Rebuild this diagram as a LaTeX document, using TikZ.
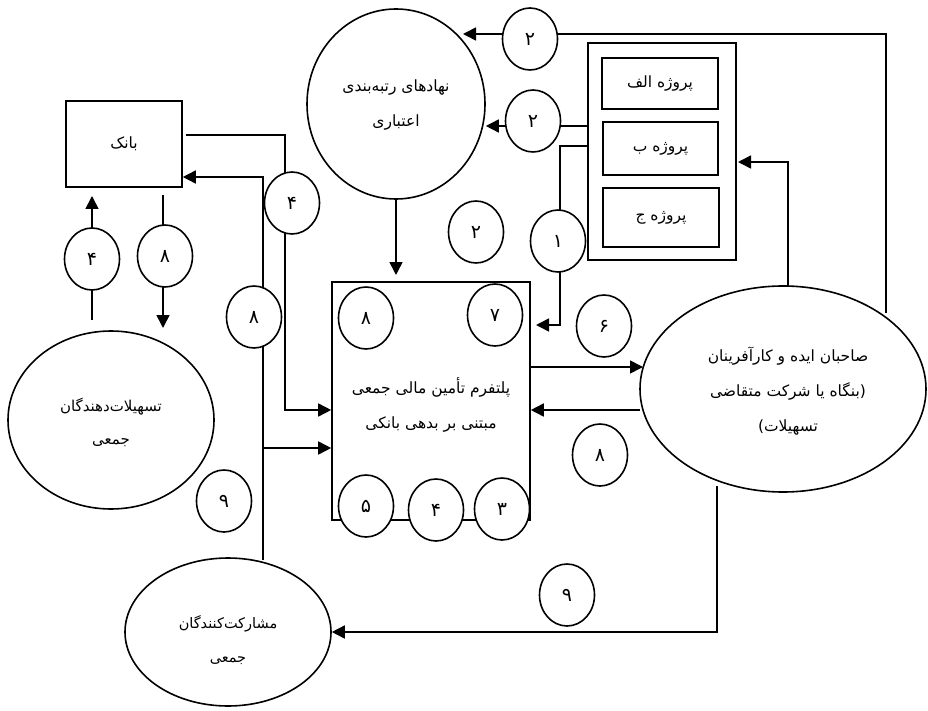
\documentclass[tikz,border=0pt]{standalone}
\usepackage{fontspec}
\newfontfamily\arabicfont[Script=Arabic]{DejaVu Sans}
\TeXXeTstate=1
\usetikzlibrary{shapes.geometric,arrows.meta}
\newcommand{\fa}[1]{\beginR #1\endR}
\begin{document}
\begin{tikzpicture}[x=1pt,y=-1pt,
  lin/.style={line width=1.6pt},
  arr/.style={line width=1.6pt,-{Triangle[length=13pt,width=13pt]}},
  bigell/.style={ellipse,draw,line width=1.6pt,inner sep=0pt},
  boxn/.style={rectangle,draw,line width=1.6pt,inner sep=0pt},
  txt/.style={align=center,font=\arabicfont\fontsize{15.5}{35}\selectfont},
  num/.style={ellipse,draw,line width=1.6pt,fill=white,minimum width=55pt,minimum height=62pt,inner sep=0pt,font=\arabicfont\fontsize{19}{20}\selectfont}]
\useasboundingbox (0,0) rectangle (928,711);
\fill[white] (0,0) rectangle (928,711);

% main shapes
\node[boxn,minimum width=116pt,minimum height=86pt] (bank) at (124,144) {};
\node[txt] at (bank.center) {\fa{بانک}};
\node[bigell,minimum width=178pt,minimum height=190pt] (rate) at (396,104) {};
\node[txt] at (396,105) {\fa{نهادهای رتبه‌بندی}\\\fa{اعتباری}};
\node[boxn,minimum width=198pt,minimum height=238pt] (plat) at (431,401) {};
\node[txt] at (431,405) {\fa{پلتفرم تأمین مالی جمعی}\\\fa{مبتنی بر بدهی بانکی}};
\node[boxn,minimum width=148pt,minimum height=217pt] (proj) at (662,151.5) {};
\node[boxn,minimum width=116pt,minimum height=51pt,txt] (pA) at (660,83.5) {\fa{پروژه الف}};
\node[boxn,minimum width=115pt,minimum height=53pt,txt] (pB) at (660.5,148.5) {\fa{پروژه ب}};
\node[boxn,minimum width=116pt,minimum height=59pt,txt] (pC) at (661,217.5) {\fa{پروژه ج}};
\node[bigell,minimum width=286pt,minimum height=206pt] (ent) at (783,389) {};
\node[txt] at (788,391) {\fa{صاحبان ایده و کارآفرینان}\\\fa{(بنگاه یا شرکت متقاضی}\\\fa{تسهیلات)}};
\node[bigell,minimum width=206pt,minimum height=178pt] (lend) at (111,420) {};
\node[txt,font=\arabicfont\fontsize{15}{33}\selectfont] at (111,422) {\fa{تسهیلات‌دهندگان}\\\fa{جمعی}};
\node[bigell,minimum width=206pt,minimum height=148pt] (part) at (228,632) {};
\node[txt,font=\arabicfont\fontsize{14.5}{34}\selectfont] at (228,640) {\fa{مشارکت‌کنندگان}\\\fa{جمعی}};

% coordinates
\coordinate (a0) at (92,320);
\coordinate (a1) at (92,196);
\coordinate (b0) at (163,195);
\coordinate (b1) at (163,328);
\coordinate (c0) at (186,135);
\coordinate (c1) at (285,410);
\coordinate (d0) at (263,560);
\coordinate (d1) at (263,177);
\coordinate (d2) at (263,448);
\coordinate (e1) at (396,275);
\coordinate (f0) at (886,313);
\coordinate (f1) at (463,34);
\coordinate (g0) at (588,126);
\coordinate (h0) at (588,146);
\coordinate (h1) at (560,325);
\coordinate (h2) at (536,325);
\coordinate (i0) at (788,287);
\coordinate (i1) at (738,162);
\coordinate (j1) at (643,367);
\coordinate (k0) at (640,410);
\coordinate (l0) at (717,486);
\coordinate (l1) at (717,632);

% connectors
\draw[arr] (a0) -- (a1);
\draw[arr] (b0) -- (b1);
\draw[arr] (c0) -| (c1) -- (plat.west |- c1);
\draw[arr] (d0) -- (d1) -- (bank.east |- d1);
\draw[arr] (d2) -- (plat.west |- d2);
\draw[arr] (rate.south) -- (e1);
\draw[arr] (f0) |- (f1);
\draw[arr] (g0) -- (rate.east |- g0);
\draw[arr] (h0) -| (h1) -- (h2);
\draw[arr] (i0) |- (i1);
\draw[arr] (plat.east |- j1) -- (j1);
\draw[arr] (k0) -- (plat.east |- k0);
\draw[arr] (l0) -- (l1) -- (part.east |- l1);

% number circles
\node[num] (n4a) at (92,259) {۴};
\node[num] (n8a) at (165,256) {۸};
\node[num] (n4b) at (292,203) {۴};
\node[num] (n8b) at (254,317) {۸};
\node[num] (n9a) at (224,501) {۹};
\node[num] (n8c) at (366,318) {۸};
\node[num] (n7) at (495,315) {۷};
\node[num] (n5) at (366,506) {۵};
\node[num] (n4c) at (436,510) {۴};
\node[num] (n3) at (502,509) {۳};
\node[num] (n2a) at (476,232) {۲};
\node[num] (n2b) at (530,39) {۲};
\node[num] (n2c) at (533,121) {۲};
\node[num] (n1) at (558,241) {۱};
\node[num] (n6) at (604,326) {۶};
\node[num] (n8d) at (600,455) {۸};
\node[num] (n9b) at (567,595) {۹};
\end{tikzpicture}
\end{document}
